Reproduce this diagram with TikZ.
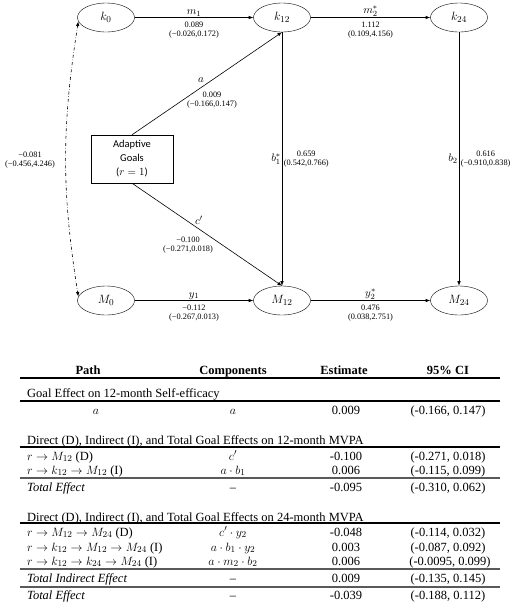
\documentclass[tikz,border=0pt]{standalone}
\usepackage{fontspec}
\setmainfont{Liberation Serif}
\newfontfamily\goalfont{Carlito}
\usepackage{amsmath}
\usetikzlibrary{arrows,shapes}

\begin{document}
\begin{tikzpicture}[x=1pt, y=-1pt, >=latex,
    var/.style={draw, ellipse, minimum width=57pt, minimum height=29pt, inner sep=0pt, font=\fontsize{12.5}{12.5}\selectfont},
    link/.style={->, line width=0.6pt},
    coef/.style={font=\fontsize{11}{11}\selectfont, inner sep=1pt},
    est/.style={font=\fontsize{8.3}{9.5}\selectfont, align=center, inner sep=1.5pt},
    estb/.style={est, below, yshift=-2.5pt},
    cell/.style={font=\fontsize{12.5}{14}\selectfont, inner sep=0pt, anchor=base},
    lcell/.style={cell, anchor=base west},
    hcell/.style={cell, font=\bfseries\fontsize{12.5}{14}\selectfont},
    rulebk/.style={line width=1.5pt},
    rulegr/.style={line width=1.2pt, gray!70!black}]
    \useasboundingbox (0,0) rectangle (520,603);

    % model
    \node[var] (k0) at (106,17.5) {$k_0$};
    \node[var] (k12) at (282,17.5) {$k_{12}$};
    \node[var] (k24) at (459,17.5) {$k_{24}$};
    \node[var] (M0) at (106,300.5) {$M_0$};
    \node[var] (M12) at (282,300.5) {$M_{12}$};
    \node[var] (M24) at (459,300.5) {$M_{24}$};
    \node[draw, minimum width=82pt, minimum height=48pt, align=center,
          font=\goalfont\fontsize{10.5}{14}\selectfont] (goal) at (132,159) {Adaptive\\Goals\\($r=1$)};

    \draw[link] (k0) -- (k12) node[midway, above, coef] {$m_1$}
        node[midway, estb] {0.089\\(−0.026,0.172)};
    \draw[link] (k12) -- (k24) node[midway, above, coef] {$m_2^*$}
        node[midway, estb] {1.112\\(0.109,4.156)};
    \draw[link] (M0) -- (M12) node[midway, above, coef] {$y_1$}
        node[midway, estb] {−0.112\\(−0.267,0.013)};
    \draw[link] (M12) -- (M24) node[midway, above, coef] {$y_2^*$}
        node[midway, estb] {0.476\\(0.038,2.751)};
    \draw[link] (k12) -- (M12) node[midway, left, coef] {$b_1^*$}
        node[midway, right, est] {0.659\\(0.542,0.766)};
    \draw[link] (k24) -- (M24) node[midway, left, coef] {$b_2$}
        node[midway, right, est] {0.616\\(−0.910,0.838)};
    \draw[link] (goal.north) -- (k12.south);
    \draw[link] (goal.south) -- (M12.north);
    \draw[<->, dash dot, line width=0.6pt] (k0.188) to[bend right=9] (M0.172);

    \node[coef] (lbla) at (201,80) {$a$};
    \node[est] (esta) at (212,100) {0.009\\(−0.166,0.147)};
    \node[coef] (lblc) at (199,220) {$c'$};
    \node[est] (estc) at (188,245) {−0.100\\(−0.271,0.018)};
    \node[est] (cov) at (30,160) {−0.081\\(−0.456,4.246)};

    % table
    \node[hcell] (hpath) at (88,374) {Path};
    \node[hcell] (hcomp) at (233,374) {Components};
    \node[hcell] (hest) at (344,374) {Estimate};
    \node[hcell] (hci) at (448,374) {95\% CI};
    \draw[rulebk] (20,378) -- (500,378);

    \node[lcell] (sec1) at (27,397) {Goal Effect on 12-month Self-efficacy};
    \draw[rulebk] (20,401) -- (500,401);
    \node[cell] (p1) at (96,414) {$a$};
    \node[cell] (c1) at (233,414) {$a$};
    \node[cell] (e1) at (346,414) {0.009};
    \node[cell] (i1) at (448,414) {(-0.166, 0.147)};

    \node[lcell] (sec2) at (27,444) {Direct (D), Indirect (I), and Total Goal Effects on 12-month MVPA};
    \draw[rulebk] (20,447) -- (500,447);
    \node[lcell] (p2) at (27,460) {$r\rightarrow M_{12}$ (D)};
    \node[cell] (c2) at (233,460) {$c'$};
    \node[cell] (e2) at (346,460) {-0.100};
    \node[cell] (i2) at (448,460) {(-0.271, 0.018)};
    \node[lcell] (p3) at (27,474) {$r\rightarrow k_{12}\rightarrow M_{12}$ (I)};
    \node[cell] (c3) at (233,474) {$a\cdot b_1$};
    \node[cell] (e3) at (346,474) {0.006};
    \node[cell] (i3) at (448,474) {(-0.115, 0.099)};
    \draw[rulegr] (20,478) -- (500,478);
    \node[lcell] (p4) at (27,491) {\itshape Total Effect};
    \node[cell] (c4) at (233,491) {--};
    \node[cell] (e4) at (346,491) {-0.095};
    \node[cell] (i4) at (448,491) {(-0.310, 0.062)};

    \node[lcell] (sec3) at (27,521) {Direct (D), Indirect (I), and Total Goal Effects on 24-month MVPA};
    \draw[rulebk] (20,523) -- (500,523);
    \node[lcell] (p5) at (27,536) {$r\rightarrow M_{12}\rightarrow M_{24}$ (D)};
    \node[cell] (c5) at (233,536) {$c'\cdot y_2$};
    \node[cell] (e5) at (346,536) {-0.048};
    \node[cell] (i5) at (448,536) {(-0.114, 0.032)};
    \node[lcell] (p6) at (27,551) {$r\rightarrow k_{12}\rightarrow M_{12}\rightarrow M_{24}$ (I)};
    \node[cell] (c6) at (233,551) {$a\cdot b_1\cdot y_2$};
    \node[cell] (e6) at (346,551) {0.003};
    \node[cell] (i6) at (448,551) {(-0.087, 0.092)};
    \node[lcell] (p7) at (27,565) {$r\rightarrow k_{12}\rightarrow k_{24}\rightarrow M_{24}$ (I)};
    \node[cell] (c7) at (233,565) {$a\cdot m_2\cdot b_2$};
    \node[cell] (e7) at (346,565) {0.006};
    \node[cell] (i7) at (450,565) {(-0.0095, 0.099)};
    \draw[rulegr] (20,569) -- (500,569);
    \node[lcell] (p8) at (27,582) {\itshape Total Indirect Effect};
    \node[cell] (c8) at (233,582) {--};
    \node[cell] (e8) at (346,582) {0.009};
    \node[cell] (i8) at (448,582) {(-0.135, 0.145)};
    \draw[rulegr] (20,587) -- (500,587);
    \node[lcell] (p9) at (27,599) {\itshape Total Effect};
    \node[cell] (c9) at (233,599) {--};
    \node[cell] (e9) at (346,599) {-0.039};
    \node[cell] (i9) at (448,599) {(-0.188, 0.112)};
\end{tikzpicture}
\end{document}
